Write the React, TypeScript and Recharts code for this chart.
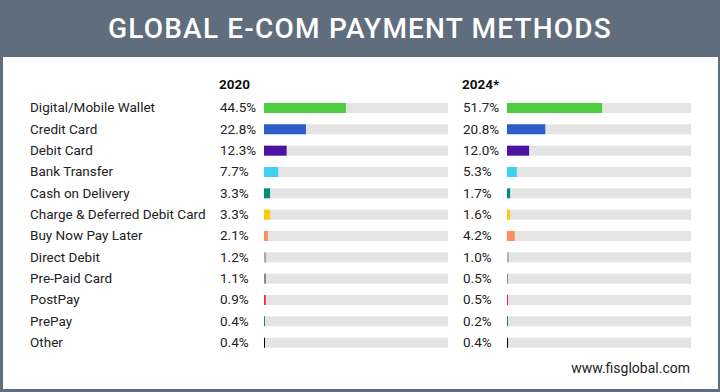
import { BarChart, Bar, XAxis, YAxis, Cell } from "recharts";

const methods = [
  "Digital/Mobile Wallet",
  "Credit Card",
  "Debit Card",
  "Bank Transfer",
  "Cash on Delivery",
  "Charge & Deferred Debit Card",
  "Buy Now Pay Later",
  "Direct Debit",
  "Pre-Paid Card",
  "PostPay",
  "PrePay",
  "Other",
];
const share2020 = [44.5, 22.8, 12.3, 7.7, 3.3, 3.3, 2.1, 1.2, 1.1, 0.9, 0.4, 0.4];
const share2024 = [51.7, 20.8, 12.0, 5.3, 1.7, 1.6, 4.2, 1.0, 0.5, 0.5, 0.2, 0.4];
const barColors = [
  "#4ccd3f",
  "#2a5fc8",
  "#4b13a1",
  "#3fd0f0",
  "#008f78",
  "#ffcc00",
  "#ff8c5c",
  "#ababab",
  "#8a8a8a",
  "#e8203c",
  "#00907a",
  "#000000",
];

const FONT = "Roboto, 'Noto Sans', sans-serif";
const BORDER = "#5f6d7d";
const TRACK = "#e4e4e4";

const rows = methods.map((m, i) => ({
  method: m,
  y2020: share2020[i],
  y2024: share2024[i],
}));

const fmt = (v: number) => v.toFixed(1) + "%";

// left chart tick: category name + 2020 value
const LeftTick = (props: any) => {
  const { y, index } = props;
  return (
    <g>
      <text x={30} y={y} dy={4.5} fontSize={13.5} fill="#222" fontFamily={FONT}>
        {methods[index]}
      </text>
      <text x={220} y={y} dy={4.5} fontSize={13.5} fill="#222" fontFamily={FONT}>
        {fmt(share2020[index])}
      </text>
    </g>
  );
};

// right chart tick: 2024 value only
const RightTick = (props: any) => {
  const { y, index } = props;
  return (
    <text x={23} y={y} dy={4.5} fontSize={13.5} fill="#222" fontFamily={FONT}>
      {fmt(share2024[index])}
    </text>
  );
};

const CHART_TOP = 97;
const CHART_H = 256;

const App = () => {
  return (
    <div
      style={{
        position: "absolute",
        left: 0,
        top: 0,
        width: 720,
        height: 392,
        background: BORDER,
        fontFamily: FONT,
      }}
    >
      <div
        style={{
          position: "absolute",
          left: 0,
          top: 0,
          width: 720,
          height: 57,
          lineHeight: "57px",
          textAlign: "center",
          color: "#fff",
          fontSize: 28,
          fontWeight: 500,
          letterSpacing: 1.2,
        }}
      >
        GLOBAL E-COM PAYMENT METHODS
      </div>
      <div
        style={{
          position: "absolute",
          left: 3,
          top: 57,
          width: 715,
          height: 332,
          background: "#fff",
        }}
      />
      <div style={{ position: "absolute", left: 219, top: 76, fontSize: 13.5, fontWeight: 700, color: "#111" }}>
        2020
      </div>
      <div style={{ position: "absolute", left: 462, top: 76, fontSize: 13.5, fontWeight: 700, color: "#111" }}>
        2024*
      </div>

      <div style={{ position: "absolute", left: 0, top: CHART_TOP }}>
        <BarChart
          layout="vertical"
          width={448}
          height={CHART_H}
          data={rows}
          margin={{ top: 0, right: 0, bottom: 0, left: 0 }}
        >
          <XAxis type="number" domain={[0, 100]} hide />
          <YAxis
            type="category"
            dataKey="method"
            width={264}
            axisLine={false}
            tickLine={false}
            interval={0}
            tick={<LeftTick />}
          />
          <Bar
            dataKey="y2020"
            barSize={10}
            minPointSize={1}
            background={{ fill: TRACK }}
            isAnimationActive={false}
          >
            {rows.map((r, i) => (
              <Cell key={r.method} fill={barColors[i]} />
            ))}
          </Bar>
        </BarChart>
      </div>

      <div style={{ position: "absolute", left: 440, top: CHART_TOP }}>
        <BarChart
          layout="vertical"
          width={251}
          height={CHART_H}
          data={rows}
          margin={{ top: 0, right: 0, bottom: 0, left: 0 }}
        >
          <XAxis type="number" domain={[0, 100]} hide />
          <YAxis
            type="category"
            dataKey="method"
            width={67}
            axisLine={false}
            tickLine={false}
            interval={0}
            tick={<RightTick />}
          />
          <Bar
            dataKey="y2024"
            barSize={10}
            minPointSize={1}
            background={{ fill: TRACK }}
            isAnimationActive={false}
          >
            {rows.map((r, i) => (
              <Cell key={r.method} fill={barColors[i]} />
            ))}
          </Bar>
        </BarChart>
      </div>

      <div
        style={{
          position: "absolute",
          right: 30,
          top: 360,
          fontSize: 14,
          color: "#222",
        }}
      >
        www.fisglobal.com
      </div>
    </div>
  );
};

export default App;
